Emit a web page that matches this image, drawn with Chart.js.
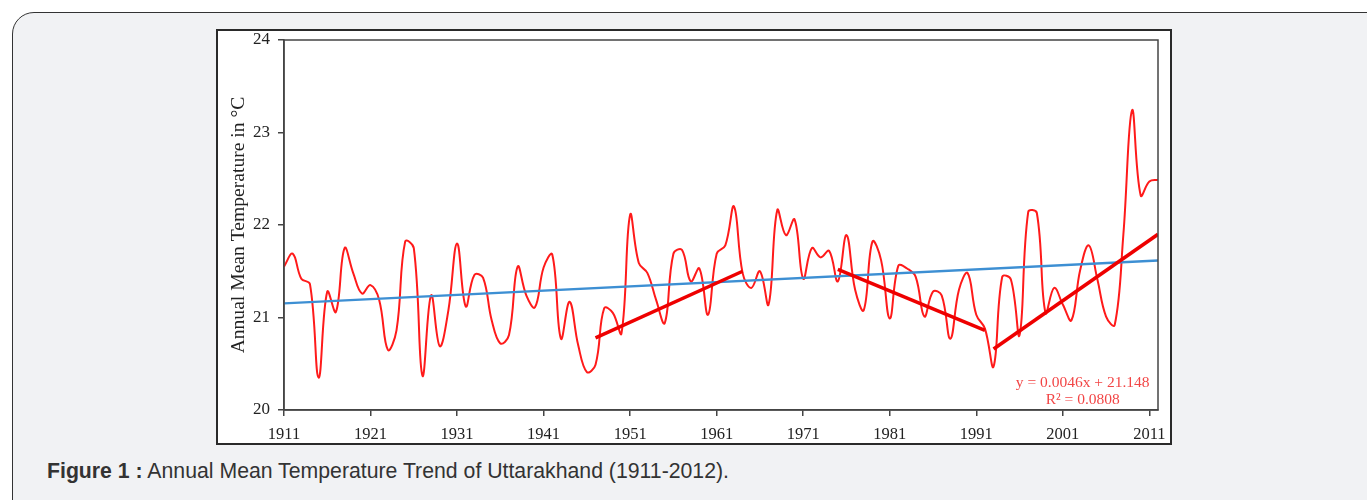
<!DOCTYPE html>
<html>
<head>
<meta charset="utf-8">
<script src="https://cdn.jsdelivr.net/npm/chart.js@4.4.1/dist/chart.umd.min.js"></script>
<style>
  html, body { margin: 0; padding: 0; background: #ffffff; width: 1367px; height: 500px; overflow: hidden; }
  #card { position: absolute; left: 12px; top: 12px; width: 1420px; height: 560px; border: 1.5px solid #333; border-radius: 22px; background: #f1f2f4; }
  #frame { position: absolute; left: 216px; top: 29px; width: 956px; height: 416px; box-sizing: border-box; border: 2px solid #2a2a2a; background: #ffffff; }
  #chart { position: absolute; left: 218px; top: 31px; }
  #caption { position: absolute; left: 47px; top: 459px; font-family: "Liberation Sans", Arial, sans-serif; font-size: 21.25px; line-height: 24px; color: #333; white-space: nowrap; }
  #caption b { font-weight: bold; }
</style>
</head>
<body>
<div id="card"></div>
<div id="frame"></div>
<canvas id="chart" width="953" height="413"></canvas>
<div id="caption"><b>Figure 1 :</b> Annual Mean Temperature Trend of Uttarakhand (1911-2012).</div>
<script>
// ---- data ----
const years = [
  1911,1912,1913,1914,1915,1916,1917,1918,1919,1920,
  1921,1922,1923,1924,1925,1926,1927,1928,1929,1930,
  1931,1932,1933,1934,1935,1936,1937,1938,1939,1940,
  1941,1942,1943,1944,1945,1946,1947,1948,1949,1950,
  1951,1952,1953,1954,1955,1956,1957,1958,1959,1960,
  1961,1962,1963,1964,1965,1966,1967,1968,1969,1970,
  1971,1972,1973,1974,1975,1976,1977,1978,1979,1980,
  1981,1982,1983,1984,1985,1986,1987,1988,1989,1990,
  1991,1992,1993,1994,1995,1996,1997,1998,1999,2000,
  2001,2002,2003,2004,2005,2006,2007,2008,2009,2010,
  2011,2012
];
const meanTemp = [
  21.55,21.69,21.42,21.36,20.35,21.28,21.06,21.75,21.48,21.26,
  21.35,21.19,20.65,20.86,21.82,21.75,20.37,21.24,20.69,21.08,
  21.80,21.12,21.46,21.43,20.97,20.72,20.81,21.55,21.24,21.11,
  21.54,21.68,20.77,21.17,20.70,20.41,20.49,21.10,21.05,20.83,
  22.11,21.59,21.48,21.19,20.94,21.69,21.73,21.39,21.53,21.03,
  21.69,21.78,22.20,21.48,21.32,21.50,21.14,22.16,21.89,22.06,
  21.42,21.75,21.65,21.72,21.39,21.89,21.30,21.08,21.82,21.62,
  20.99,21.56,21.53,21.44,21.01,21.28,21.24,20.77,21.30,21.48,
  21.03,20.88,20.47,21.44,21.41,20.81,22.14,22.13,21.05,21.32,
  21.14,20.97,21.51,21.78,21.41,21.01,20.92,21.90,23.24,22.32,
  22.47,22.49
];
// overall linear trend (y = 0.0046x + 21.148), endpoints
const trendYears = [1911, 2012];
const trendValues = [21.153, 21.617];
// segment trends
const seg1Years = [1947, 1964];
const seg1Values = [20.78, 21.50];
const seg2Years = [1975, 1992];
const seg2Values = [21.52, 20.86];
const seg3Years = [1993, 2012];
const seg3Values = [20.66, 21.90];
const xTicks = [1911,1921,1931,1941,1951,1961,1971,1981,1991,2001,2011];
const yTicks = [20,21,22,23,24];
const equationText = ["y = 0.0046x + 21.148", "R\u00b2 = 0.0808"];

const pts = (xs, ys) => xs.map((x, i) => ({x: x, y: ys[i]}));

const frameBorder = {
  id: 'frameBorder',
  afterDraw(chart) {
    const {ctx, chartArea: a} = chart;
    ctx.save();
    ctx.strokeStyle = '#444';
    ctx.lineWidth = 1.5;
    ctx.strokeRect(a.left, a.top, a.right - a.left, a.bottom - a.top);
    ctx.restore();
  }
};
const eqLabel = {
  id: 'eqLabel',
  afterDatasetsDraw(chart) {
    const {ctx} = chart;
    const xs = chart.scales.x, ys = chart.scales.y;
    const cx = xs.getPixelForValue(2003.3);
    ctx.save();
    ctx.fillStyle = '#f24545';
    ctx.font = '15.5px "Liberation Serif", "Times New Roman", serif';
    ctx.textAlign = 'center';
    ctx.textBaseline = 'middle';
    ctx.fillText(equationText[0], cx, ys.getPixelForValue(20.29));
    ctx.fillText(equationText[1], cx, ys.getPixelForValue(20.11));
    ctx.restore();
  }
};

const serif = '"Liberation Serif", "Times New Roman", serif';
new Chart(document.getElementById('chart'), {
  type: 'line',
  data: {
    datasets: [
      { data: pts(years, meanTemp), borderColor: '#ff1a1a', borderWidth: 2, tension: 0.4, pointRadius: 0, fill: false, order: 3 },
      { data: pts(trendYears, trendValues), borderColor: '#3d8fd3', borderWidth: 2.4, pointRadius: 0, fill: false, order: 2 },
      { data: pts(seg1Years, seg1Values), borderColor: '#ee0000', borderWidth: 3.5, pointRadius: 0, fill: false, order: 1 },
      { data: pts(seg2Years, seg2Values), borderColor: '#ee0000', borderWidth: 3.5, pointRadius: 0, fill: false, order: 1 },
      { data: pts(seg3Years, seg3Values), borderColor: '#ee0000', borderWidth: 3.5, pointRadius: 0, fill: false, order: 1 }
    ]
  },
  options: {
    responsive: false,
    animation: false,
    devicePixelRatio: 1,
    layout: { autoPadding: false, padding: { left: 0, top: 9, right: 13, bottom: 0 } },
    plugins: { legend: { display: false }, tooltip: { enabled: false } },
    scales: {
      x: {
        type: 'linear', min: 1911, max: 2012,
        afterBuildTicks: (s) => { s.ticks = xTicks.map(v => ({ value: v })); },
        afterFit: (s) => { s.height = 34; s.paddingLeft = 0; s.paddingRight = 0; },
        grid: { drawOnChartArea: false, drawTicks: true, tickLength: 6, color: '#444', lineWidth: 1.5 },
        border: { display: true, color: '#444', width: 1.5 },
        ticks: { font: { family: serif, size: 16.5 }, color: '#222', padding: 9, maxRotation: 0, autoSkip: false, callback: (v) => String(v) }
      },
      y: {
        min: 20, max: 24,
        afterBuildTicks: (s) => { s.ticks = yTicks.map(v => ({ value: v })); },
        afterFit: (s) => { s.width = 66; s.paddingTop = 0; s.paddingBottom = 0; },
        grid: { drawOnChartArea: false, drawTicks: true, tickLength: 6, color: '#444', lineWidth: 1.5 },
        border: { display: true, color: '#444', width: 1.5 },
        ticks: { font: { family: serif, size: 17 }, color: '#222', padding: 8, callback: (v) => String(v) },
        title: { display: true, text: 'Annual Mean Temperature in \u00b0C', font: { family: serif, size: 19.6 }, color: '#222', padding: { top: 9, bottom: 0 } }
      }
    }
  },
  plugins: [frameBorder, eqLabel]
});
</script>
</body>
</html>
